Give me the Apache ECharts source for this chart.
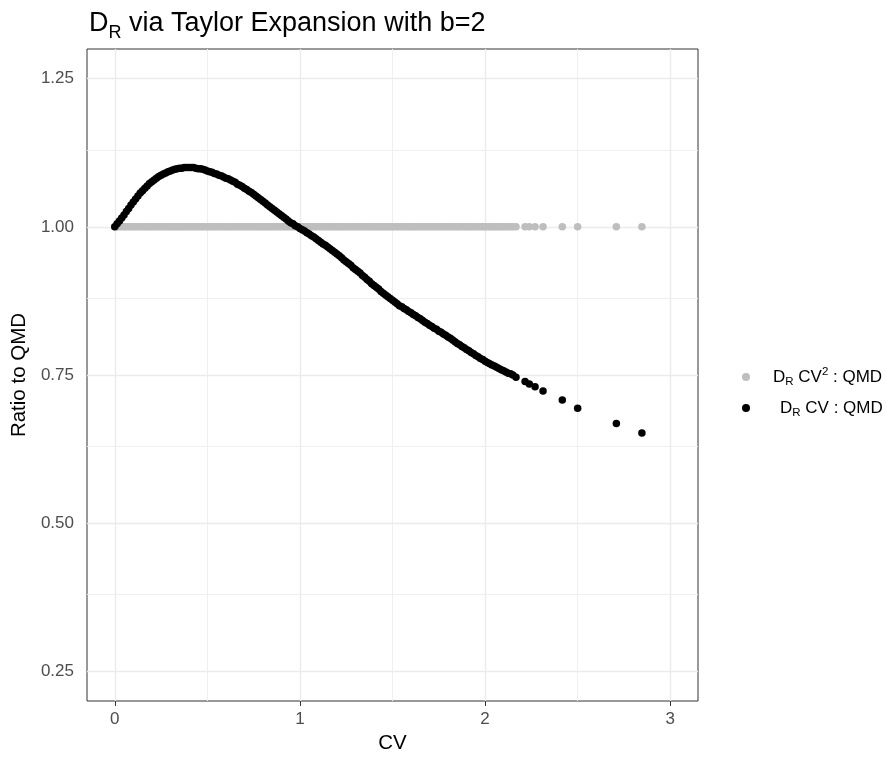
<!DOCTYPE html>
<html>
<head>
<meta charset="utf-8">
<script src="https://cdn.jsdelivr.net/npm/echarts@6/dist/echarts.min.js"></script>
<style>
html,body{margin:0;padding:0;background:#fff;}
#chart{width:886px;height:759px;}
</style>
</head>
<body>
<div id="chart"></div>
<script>
// ---- data ----
const cvValues = [
  0.0000,0.0125,0.0250,0.0375,0.0500,0.0625,0.0750,0.0875,0.1000,0.1125,
  0.1250,0.1375,0.1500,0.1625,0.1750,0.1875,0.2000,0.2125,0.2250,0.2375,
  0.2500,0.2625,0.2750,0.2875,0.3000,0.3125,0.3250,0.3375,0.3500,0.3625,
  0.3750,0.3875,0.4000,0.4125,0.4250,0.4375,0.4500,0.4625,0.4750,0.4875,
  0.5000,0.5125,0.5250,0.5375,0.5500,0.5625,0.5750,0.5875,0.6000,0.6125,
  0.6250,0.6375,0.6500,0.6625,0.6750,0.6875,0.7000,0.7125,0.7250,0.7375,
  0.7500,0.7625,0.7750,0.7875,0.8000,0.8125,0.8250,0.8375,0.8500,0.8625,
  0.8750,0.8875,0.9000,0.9125,0.9250,0.9375,0.9500,0.9625,0.9750,0.9875,
  1.0000,1.0125,1.0250,1.0375,1.0500,1.0625,1.0750,1.0875,1.1000,1.1125,
  1.1250,1.1375,1.1500,1.1625,1.1750,1.1875,1.2000,1.2125,1.2250,1.2375,
  1.2500,1.2625,1.2750,1.2875,1.3000,1.3125,1.3250,1.3375,1.3500,1.3625,
  1.3750,1.3875,1.4000,1.4125,1.4250,1.4375,1.4500,1.4625,1.4750,1.4875,
  1.5000,1.5125,1.5250,1.5375,1.5500,1.5625,1.5750,1.5875,1.6000,1.6125,
  1.6250,1.6375,1.6500,1.6625,1.6750,1.6875,1.7000,1.7125,1.7250,1.7375,
  1.7500,1.7625,1.7750,1.7875,1.8000,1.8125,1.8250,1.8375,1.8500,1.8625,
  1.8750,1.8875,1.9000,1.9125,1.9250,1.9375,1.9500,1.9625,1.9750,1.9875,
  2.0000,2.0125,2.0250,2.0375,2.0500,2.0625,2.0750,2.0875,2.1000,2.1125,
  2.1250,2.1375,2.1500,
  2.167,2.216,2.239,2.270,2.313,2.417,2.500,2.709,2.847
];
// D_R CV : QMD (black points)
const ratioCV = [
  1.000,1.005,1.010,1.015,1.020,1.026,1.031,1.037,1.042,1.047,
  1.052,1.057,1.061,1.065,1.069,1.073,1.076,1.079,1.082,1.085,
  1.087,1.089,1.091,1.093,1.094,1.096,1.097,1.098,1.099,1.099,
  1.100,1.100,1.100,1.100,1.100,1.099,1.098,1.098,1.097,1.096,
  1.094,1.093,1.092,1.090,1.089,1.087,1.086,1.084,1.082,1.081,
  1.079,1.077,1.075,1.072,1.070,1.068,1.065,1.063,1.060,1.058,
  1.055,1.052,1.049,1.046,1.043,1.040,1.037,1.034,1.031,1.028,
  1.025,1.022,1.019,1.016,1.013,1.010,1.007,1.005,1.002,1.000,
  0.997,0.995,0.993,0.990,0.988,0.985,0.983,0.980,0.977,0.974,
  0.971,0.969,0.966,0.963,0.960,0.957,0.954,0.951,0.948,0.944,
  0.941,0.938,0.935,0.931,0.928,0.925,0.922,0.918,0.915,0.911,
  0.908,0.904,0.901,0.898,0.895,0.891,0.888,0.885,0.882,0.879,
  0.876,0.873,0.870,0.867,0.865,0.862,0.860,0.857,0.855,0.852,
  0.850,0.847,0.845,0.842,0.839,0.837,0.834,0.832,0.829,0.827,
  0.824,0.822,0.819,0.817,0.814,0.812,0.809,0.806,0.803,0.801,
  0.798,0.796,0.793,0.791,0.788,0.786,0.783,0.781,0.778,0.776,
  0.773,0.771,0.769,0.767,0.765,0.763,0.761,0.759,0.757,0.755,
  0.753,0.752,0.750,
  0.746,0.739,0.735,0.730,0.723,0.708,0.694,0.668,0.652
];
// D_R CV^2 : QMD (grey points)
const ratioCV2 = [
  1,1,1,1,1,1,1,1,1,1, 1,1,1,1,1,1,1,1,1,1,
  1,1,1,1,1,1,1,1,1,1, 1,1,1,1,1,1,1,1,1,1,
  1,1,1,1,1,1,1,1,1,1, 1,1,1,1,1,1,1,1,1,1,
  1,1,1,1,1,1,1,1,1,1, 1,1,1,1,1,1,1,1,1,1,
  1,1,1,1,1,1,1,1,1,1, 1,1,1,1,1,1,1,1,1,1,
  1,1,1,1,1,1,1,1,1,1, 1,1,1,1,1,1,1,1,1,1,
  1,1,1,1,1,1,1,1,1,1, 1,1,1,1,1,1,1,1,1,1,
  1,1,1,1,1,1,1,1,1,1, 1,1,1,1,1,1,1,1,1,1,
  1,1,1,1,1,1,1,1,1,1, 1,1,1,1,1,1,1,1,1,1,
  1,1
];
const xTicks = [0, 1, 2, 3];
const xMinor = [0.5, 1.5, 2.5];
const yTicks = [0.25, 0.50, 0.75, 1.00, 1.25];
const yMinor = [0.375, 0.625, 0.875, 1.125];
const seriesNames = ['cv2', 'cv'];

// ---- build chart ----
const font = 'Liberation Sans, Arial, sans-serif';
const toPairs = (xs, ys) => xs.map((x, i) => [x, ys[i]]);

const gridMarks = [];
xTicks.forEach(v => gridMarks.push({xAxis: v, lineStyle: {color: '#EBEBEB', width: 1.4, type: 'solid'}}));
xMinor.forEach(v => gridMarks.push({xAxis: v, lineStyle: {color: '#EFEFEF', width: 1, type: 'solid'}}));
yTicks.forEach(v => gridMarks.push({yAxis: v, lineStyle: {color: '#EBEBEB', width: 1.4, type: 'solid'}}));
yMinor.forEach(v => gridMarks.push({yAxis: v, lineStyle: {color: '#EFEFEF', width: 1, type: 'solid'}}));

const chart = echarts.init(document.getElementById('chart'), null, {renderer: 'canvas'});
const legendText = (padLeft) => ({
  fontFamily: font, fontSize: 17, color: '#000', lineHeight: 22, padding: [0, 0, 0, padLeft],
  rich: {
    sub: {fontFamily: font, fontSize: 11.5, color: '#000', verticalAlign: 'bottom', lineHeight: 22},
    sup: {fontFamily: font, fontSize: 11.5, color: '#000', verticalAlign: 'top', lineHeight: 22}
  }
});
const option = {
  animation: false,
  backgroundColor: '#ffffff',
  title: {
    left: 84, top: 1,
    text: 'D{sub|R} via Taylor Expansion with b=2',
    textStyle: {
      fontFamily: font, fontSize: 27, fontWeight: 'normal', color: '#000', lineHeight: 36,
      rich: {
        sub: {fontFamily: font, fontSize: 18, color: '#000', verticalAlign: 'bottom', lineHeight: 36}
      }
    }
  },
  grid: {
    left: 87, right: 188, top: 49, bottom: 55,
    show: true, borderColor: '#333333', borderWidth: 1, backgroundColor: 'transparent'
  },
  legend: [
    {
      left: 742, top: 366, orient: 'vertical', padding: 0,
      itemWidth: 8, itemHeight: 8, icon: 'circle', itemGap: 5,
      data: [seriesNames[0]],
      formatter: () => 'D{sub|R} CV{sup|2} : QMD',
      textStyle: legendText(18)
    },
    {
      left: 742, top: 397, orient: 'vertical', padding: 0,
      itemWidth: 8, itemHeight: 8, icon: 'circle', itemGap: 5,
      data: [seriesNames[1]],
      formatter: () => 'D{sub|R} CV : QMD',
      textStyle: legendText(25)
    }
  ],
  xAxis: {
    type: 'value', min: -0.15, max: 3.15,
    name: 'CV', nameLocation: 'middle', nameGap: 32,
    nameTextStyle: {fontFamily: font, fontSize: 20.5, color: '#000'},
    axisLine: {show: false},
    axisTick: {show: true, customValues: xTicks, length: 5, lineStyle: {color: '#333333', width: 1}},
    axisLabel: {customValues: xTicks, fontFamily: font, fontSize: 17, color: '#4D4D4D', margin: 10,
      formatter: v => String(Math.round(v))},
    splitLine: {show: false}
  },
  yAxis: {
    type: 'value', min: 0.2, max: 1.3,
    name: 'Ratio to QMD', nameLocation: 'middle', nameGap: 52, nameRotate: 90,
    nameTextStyle: {fontFamily: font, fontSize: 20.5, color: '#000'},
    axisLine: {show: false},
    axisTick: {show: true, customValues: yTicks, length: 5, lineStyle: {color: '#333333', width: 1}},
    axisLabel: {customValues: yTicks, fontFamily: font, fontSize: 17, color: '#4D4D4D', margin: 13,
      formatter: v => v.toFixed(2)},
    splitLine: {show: false}
  },
  series: [
    {
      type: 'scatter', name: 'grid', data: [], silent: true, z: 1,
      markLine: {silent: true, z: 1, symbol: ['none', 'none'], label: {show: false},
        animation: false, emphasis: {disabled: true}, data: gridMarks}
    },
    {
      type: 'scatter', name: seriesNames[0], z: 3,
      data: toPairs(cvValues, ratioCV2),
      symbol: 'circle', symbolSize: 7.5,
      itemStyle: {color: '#BEBEBE', opacity: 1},
      emphasis: {disabled: true}
    },
    {
      type: 'scatter', name: seriesNames[1], z: 4,
      data: toPairs(cvValues, ratioCV),
      symbol: 'circle', symbolSize: 7.5,
      itemStyle: {color: '#000000', opacity: 1},
      emphasis: {disabled: true}
    }
  ]
};
chart.setOption(option);
</script>
</body>
</html>
